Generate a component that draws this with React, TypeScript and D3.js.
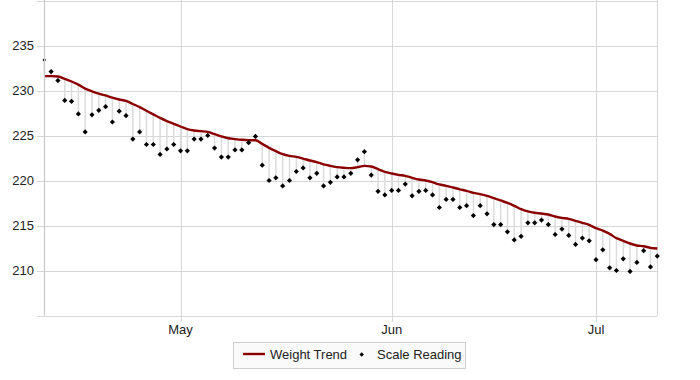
import React from "react";
import * as d3 from "d3";

const startDate = new Date(2024, 3, 11);
const endDate = new Date(2024, 6, 10);

const scaleReading = [
  233.4, 232.1, 231.1, 228.9, 228.8, 227.4, 225.4, 227.3, 227.8, 228.2,
  226.5, 227.7, 227.2, 224.6, 225.4, 224.0, 224.0, 222.9, 223.5, 224.0,
  223.3, 223.3, 224.6, 224.6, 225.0, 223.6, 222.6, 222.6, 223.4, 223.4,
  224.2, 224.9, 221.7, 220.0, 220.3, 219.4, 220.0, 221.0, 221.4, 220.3,
  220.8, 219.4, 219.8, 220.4, 220.4, 220.8, 222.3, 223.2, 220.6, 218.8,
  218.4, 218.9, 218.9, 219.6, 218.3, 218.8, 218.9, 218.4, 217.0, 217.9,
  217.9, 217.0, 217.2, 216.1, 217.2, 216.3, 215.1, 215.1, 214.3, 213.4,
  213.8, 215.3, 215.3, 215.6, 215.1, 214.0, 214.6, 213.9, 212.9, 213.6,
  213.3, 211.2, 212.3, 210.3, 210.0, 211.3, 209.9, 210.9, 212.2, 210.4,
  211.6,
];

const weightTrend = [
  231.6, 231.6, 231.55, 231.3, 231.0, 230.65, 230.2, 229.9, 229.65, 229.45,
  229.2, 229.0, 228.85, 228.5, 228.15, 227.75, 227.35, 226.95, 226.6, 226.3,
  226.0, 225.7, 225.55, 225.48, 225.4, 225.15, 224.9, 224.7, 224.6, 224.52,
  224.48, 224.48, 224.07, 223.63, 223.26, 222.93, 222.74, 222.63, 222.44, 222.22,
  222.04, 221.8, 221.63, 221.48, 221.41, 221.37, 221.48, 221.63, 221.56, 221.26,
  220.96, 220.78, 220.63, 220.52, 220.3, 220.11, 220.0, 219.81, 219.56, 219.41,
  219.22, 219.02, 218.85, 218.63, 218.48, 218.3, 218.04, 217.78, 217.52, 217.19,
  216.81, 216.56, 216.41, 216.33, 216.22, 216.0, 215.85, 215.74, 215.52, 215.3,
  215.07, 214.7, 214.44, 214.07, 213.59, 213.3, 213.0, 212.78, 212.7, 212.52,
  212.44,
];

const yTicks = [205, 210, 215, 220, 225, 230, 235, 240];
const yLabels = ["210", "215", "220", "225", "230", "235"];
const xTickDates = [new Date(2024, 4, 1), new Date(2024, 5, 1), new Date(2024, 6, 1)];
const xTickLabels = ["May", "Jun", "Jul"];
const legendLabels = ["Weight Trend", "Scale Reading"];

const W = 700;
const H = 380;
const L = 44.3;
const R = 657.3;
const T = 0.5;
const B = 315.5;
const font = "Arial, 'Liberation Sans', sans-serif";
const gridColor = "#d6d6d6";
const trendColor = "#8b0000";

export default function App() {
  const dates = d3.timeDay.range(startDate, d3.timeDay.offset(endDate, 1));
  const x = d3.scaleTime().domain([startDate, endDate]).range([L, R]);
  const y = d3.scaleLinear().domain([205, 240]).range([B, T]);

  const trendPts: [number, number][] = weightTrend.map((v, i) => [x(dates[i]), y(v)]);
  const line = d3.line().curve(d3.curveMonotoneX)(trendPts) || "";

  const diamond = (cx: number, cy: number, r = 2.6) =>
    `M${cx},${cy - r}L${cx + r},${cy}L${cx},${cy + r}L${cx - r},${cy}Z`;

  return (
    <svg
      width={W}
      height={H}
      style={{ position: "absolute", left: 0, top: 0, background: "#fff" }}
      fontFamily={font}
    >
      {/* horizontal grid */}
      {yTicks.map((t) => (
        <line key={"h" + t} x1={37} x2={R} y1={Math.round(y(t)) + 0.5} y2={Math.round(y(t)) + 0.5} stroke={gridColor} strokeWidth={1} />
      ))}
      {/* vertical grid */}
      {xTickDates.map((d, i) => (
        <line key={"v" + i} x1={Math.round(x(d)) + 0.5} x2={Math.round(x(d)) + 0.5} y1={0} y2={322} stroke={gridColor} strokeWidth={1} />
      ))}
      <line x1={Math.round(R) + 0.5} x2={Math.round(R) + 0.5} y1={0} y2={B} stroke={gridColor} />

      {/* y labels */}
      {yLabels.map((l) => (
        <text key={"yl" + l} x={34} y={y(+l) + 4.7} textAnchor="end" fontSize={13} fill="#222">
          {l}
        </text>
      ))}
      {/* x labels */}
      {xTickDates.map((d, i) => (
        <text key={"xl" + i} x={x(d)} y={334} textAnchor="middle" fontSize={13} fill="#222">
          {xTickLabels[i]}
        </text>
      ))}

      {/* stems */}
      {scaleReading.map((v, i) => (
        <line
          key={"s" + i}
          x1={x(dates[i])}
          x2={x(dates[i])}
          y1={y(v)}
          y2={y(weightTrend[i])}
          stroke="#dcdcdc"
          strokeWidth={1.5}
        />
      ))}

      {/* trend */}
      <path d={line} fill="none" stroke={trendColor} strokeWidth={2.4} strokeLinejoin="round" />

      {/* points */}
      {scaleReading.map((v, i) => (
        <path key={"p" + i} d={diamond(x(dates[i]), y(v), i === 0 ? 1.8 : 2.6)} fill="#000" />
      ))}

      {/* left axis line over the first marker */}
      <line x1={Math.round(L) + 0.5} x2={Math.round(L) + 0.5} y1={0} y2={B} stroke="#c8c8c8" strokeWidth={1.2} />

      {/* legend */}
      <rect x={233.5} y={342.5} width={232} height={26} fill="#fafafa" stroke="#cfcfcf" />
      <line x1={243} x2={265} y1={354} y2={354} stroke={trendColor} strokeWidth={2.4} />
      <text x={270} y={359} fontSize={13} fill="#222">
        {legendLabels[0]}
      </text>
      <path d={diamond(361.7, 354.5, 2.2)} fill="#000" />
      <text x={377} y={359} fontSize={13} fill="#222">
        {legendLabels[1]}
      </text>
    </svg>
  );
}
